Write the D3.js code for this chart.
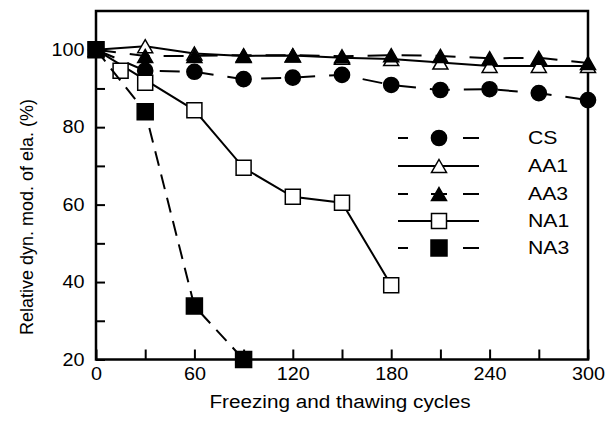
<!DOCTYPE html>
<html><head><meta charset="utf-8">
<script src="https://cdn.jsdelivr.net/npm/d3@7"></script>
<style>body{margin:0;background:#fff}svg{display:block}text{font-family:"Liberation Sans",Arial,sans-serif;fill:#000}</style>
</head><body><svg id="c" width="616" height="421"></svg>
<script>
const xTicks = [0,30,60,90,120,150,180,210,240,270,300];
const xTickLabels = [0,60,120,180,240,300];
const yTicks = [20,30,40,50,60,70,80,90,100];
const yTickLabels = [20,40,60,80,100];

const csCycles = [0,30,60,90,120,150,180,210,240,270,300];
const csValues = [100,94.6,94.3,92.4,92.8,93.5,90.9,89.6,89.8,88.8,87.0];
const aa1Cycles = [0,30,60,90,120,150,180,210,240,270,300];
const aa1Values = [100,100.9,99.0,98.4,98.5,97.9,97.6,96.7,95.8,95.8,95.8];
const aa3Cycles = [0,30,60,90,120,150,180,210,240,270,300];
const aa3Values = [100,98.4,98.4,98.6,98.6,98.3,98.6,98.4,97.8,97.9,96.6];
const na1Cycles = [0,15,30,60,90,120,150,180];
const na1Values = [100,94.6,91.5,84.4,69.5,62.0,60.5,39.2];
const na1LineCycles = [0,60,90,120,150,180]; // points the drawn curve passes through
const na3Cycles = [0,30,60,90];
const na3Values = [100,84.0,33.8,20.0];

const seriesNames = ["CS","AA1","AA3","NA1","NA3"];

const svg = d3.select("#c");
const m = {l:96, r:588, t:11, b:359.5};
const x = d3.scaleLinear().domain([0,300]).range([m.l, m.r]);
const y = d3.scaleLinear().domain([20,110]).range([m.b, m.t]);

function stretch(sel, k){
  sel.each(function(){
    const w = this.getComputedTextLength();
    this.setAttribute("textLength", w*k);
    this.setAttribute("lengthAdjust","spacingAndGlyphs");
  });
}

function tri(w,h){ return `M0,${-h/2}L${w/2},${h/2}L${-w/2},${h/2}Z`; }
const markers = {
  circle: {path: d3.symbol(d3.symbolCircle, 180)(), fill:"#000"},
  triOpen: {path: tri(15,13), fill:"#fff"},
  triFill: {path: tri(15,13), fill:"#000"},
  sqOpen: {path: "M-7.5,-7.5h15v15h-15Z", fill:"#fff"},
  sqFill: {path: "M-8,-8h16v16h-16Z", fill:"#000"}
};

const series = [
  {name:seriesNames[0], c:csCycles, v:csValues, lc:csCycles, dash:"20,14", mk:"circle"},
  {name:seriesNames[1], c:aa1Cycles, v:aa1Values, lc:aa1Cycles, dash:null, mk:"triOpen"},
  {name:seriesNames[2], c:aa3Cycles, v:aa3Values, lc:aa3Cycles, dash:"20,14", mk:"triFill"},
  {name:seriesNames[3], c:na1Cycles, v:na1Values, lc:na1LineCycles, dash:null, mk:"sqOpen"},
  {name:seriesNames[4], c:na3Cycles, v:na3Values, lc:na3Cycles, dash:"15,9", mk:"sqFill"}
];

// axes
const gx = svg.append("g").attr("transform",`translate(0,${m.b})`)
  .call(d3.axisBottom(x).tickValues(xTicks).tickSizeInner(-10).tickSizeOuter(0)
    .tickFormat(d => xTickLabels.includes(d) ? d : "").tickPadding(7.5));
gx.select(".domain").remove();
gx.selectAll(".tick line").attr("stroke","#000").attr("stroke-width",2);
gx.selectAll(".tick text").attr("font-size",18).attr("font-family","Liberation Sans, Arial, sans-serif");
stretch(gx.selectAll(".tick text").filter(d => xTickLabels.includes(d)), 1.1);

const gy = svg.append("g").attr("transform",`translate(${m.l},0)`)
  .call(d3.axisLeft(y).tickValues(yTicks).tickSizeInner(-9).tickSizeOuter(0)
    .tickFormat(d => yTickLabels.includes(d) ? d : "").tickPadding(11.5));
gy.select(".domain").remove();
gy.selectAll(".tick line").attr("stroke","#000").attr("stroke-width",2);
gy.selectAll(".tick text").attr("font-size",18).attr("font-family","Liberation Sans, Arial, sans-serif");
stretch(gy.selectAll(".tick text").filter(d => yTickLabels.includes(d)), 1.1);

svg.append("rect").attr("x",m.l).attr("y",m.t).attr("width",m.r-m.l).attr("height",m.b-m.t)
  .attr("fill","none").attr("stroke","#000").attr("stroke-width",2.5);

// series
const line = d3.line().x(d=>x(d[0])).y(d=>y(d[1]));
series.forEach(s => {
  const pts = s.c.map((c,i)=>[c,s.v[i]]);
  const lp = pts.filter(p => s.lc.includes(p[0]));
  svg.append("path").attr("d", line(lp)).attr("fill","none").attr("stroke","#000")
    .attr("stroke-width",2).attr("stroke-dasharray", s.dash);
  const mk = markers[s.mk];
  svg.append("g").selectAll("path").data(pts).join("path")
    .attr("d", mk.path).attr("transform", d=>`translate(${x(d[0])},${y(d[1])})`)
    .attr("fill", mk.fill).attr("stroke","#000").attr("stroke-width",1.5);
});

// legend
const lg = svg.append("g");
const rowY = [138,166,194,221,248];
series.forEach((s,i) => {
  const yy = rowY[i];
  lg.append("line").attr("x1",398).attr("x2",479).attr("y1",yy).attr("y2",yy)
    .attr("stroke","#000").attr("stroke-width",2)
    .attr("stroke-dasharray", s.dash ? "10,23,16,16,16" : null);
  const mk = markers[s.mk];
  lg.append("path").attr("d", mk.path).attr("transform",`translate(439,${yy})`)
    .attr("fill", mk.fill).attr("stroke","#000").attr("stroke-width",1.5);
  const t = lg.append("text").attr("x",528).attr("y",yy).attr("dy","0.36em").attr("font-size",18).text(s.name);
  stretch(t, 1.18);
});

// titles
const xt = svg.append("text").attr("x",340).attr("y",408).attr("text-anchor","middle")
  .attr("font-size",18).text("Freezing and thawing cycles");
stretch(xt, 1.15);
const yt = svg.append("text").attr("transform","translate(33,217) rotate(-90)").attr("text-anchor","middle")
  .attr("font-size",18).text("Relative dyn. mod. of ela. (%)");
</script></body></html>
